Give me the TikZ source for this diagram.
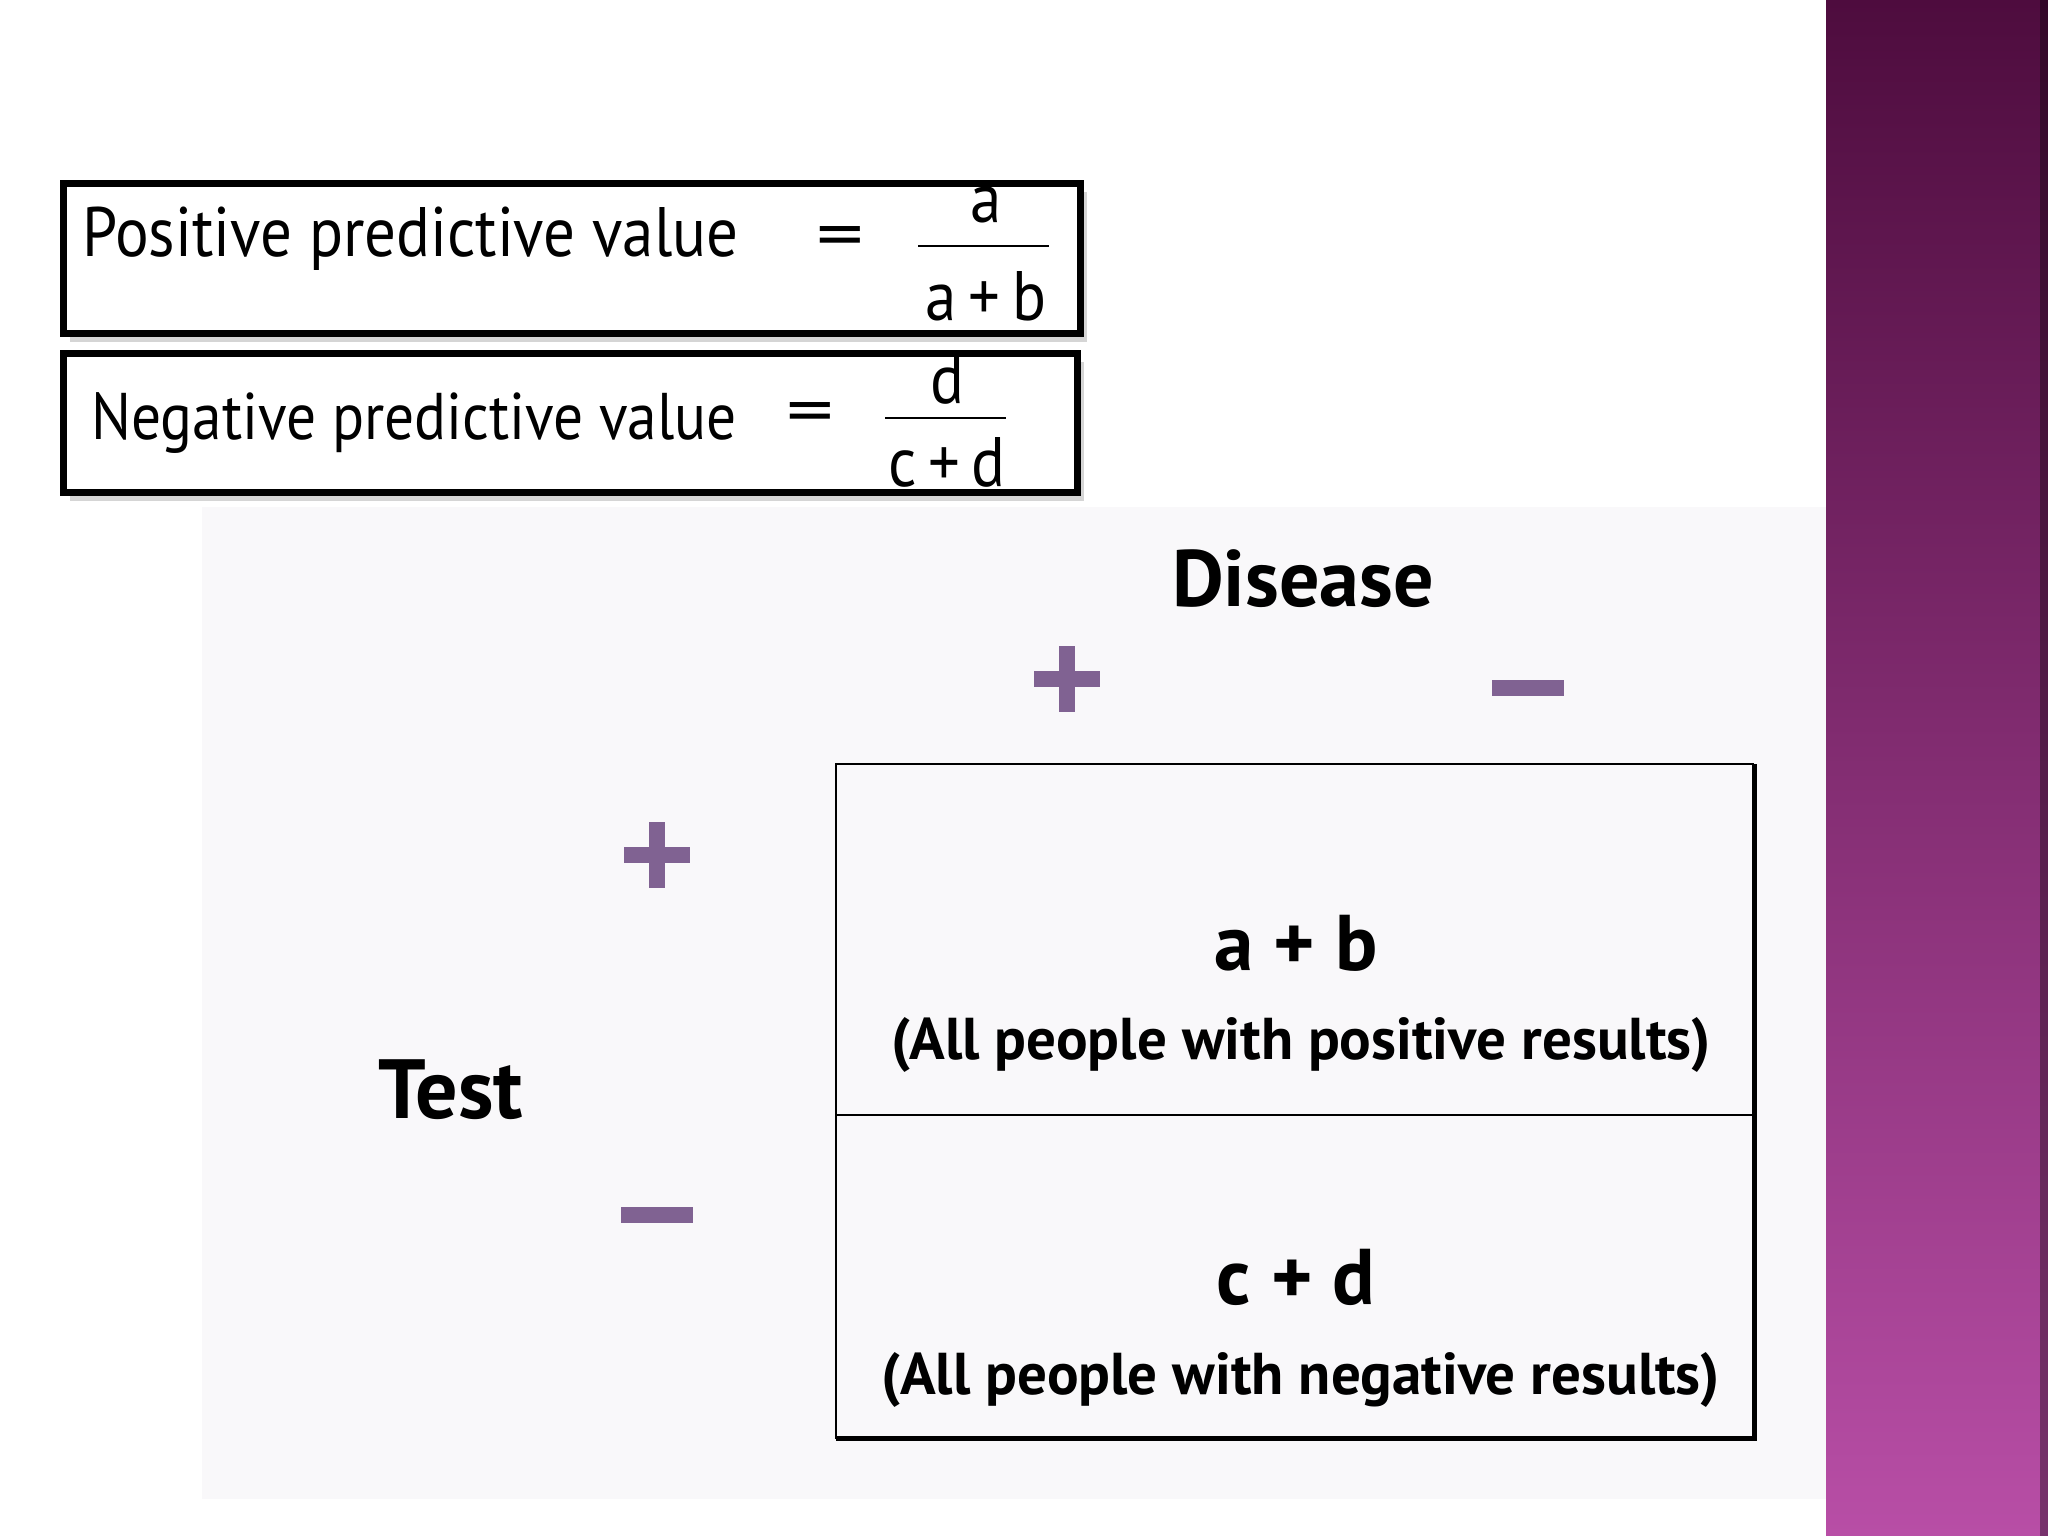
\documentclass[tikz,border=0pt]{standalone}
\usepackage{fontspec}
\setmainfont[FakeStretch=0.9,BoldFeatures={FakeStretch=1.0}]{PT Sans}
\usetikzlibrary{positioning,shadows}

\definecolor{signcol}{RGB}{128,98,146}
\definecolor{areacol}{RGB}{249,248,250}
\definecolor{bartop}{RGB}{78,12,62}
\definecolor{barbot}{RGB}{184,78,166}

\tikzset{
  formbox/.style={draw=black,line width=7pt,fill=white,inner sep=0pt,
    anchor=north west,drop shadow={shadow xshift=6pt,shadow yshift=-8pt,fill=gray!65}},
  formtext/.style={inner sep=0pt,font=\fontsize{70}{80}\selectfont},
  headtext/.style={inner sep=0pt,font=\bfseries\fontsize{80}{90}\selectfont},
  sumtext/.style={inner sep=0pt,font=\bfseries\fontsize{79}{89}\selectfont},
  notetext/.style={inner sep=0pt,font=\bfseries\fontsize{59}{69}\selectfont},
  cell/.style={inner sep=0pt,minimum width=918pt,anchor=north west},
}
% plus und minus als Balken
\newcommand\pmplus[2]{\fill[signcol] (#1-33,#2-8) rectangle (#1+33,#2+8);
  \fill[signcol] (#1-8,#2-33) rectangle (#1+8,#2+33);}
\newcommand\pmminus[2]{\fill[signcol] (#1-36,#2-8) rectangle (#1+36,#2+8);}

\begin{document}
\begin{tikzpicture}[x=1pt,y=-1pt]
  \fill[white] (0,0) rectangle (2048,1536);
  \useasboundingbox (0,0) rectangle (2048,1536);
  % seitenleiste
  \shade[top color=bartop,bottom color=barbot] (1826,0) rectangle (2048,1536);
  \fill[black,opacity=0.35] (2040,0) rectangle (2048,1536);
  \fill[areacol] (202,507) rectangle (1826,1499);

  % formeln
  \node[formbox,minimum width=1017pt,minimum height=150pt] (ppvbox) at (60,180) {};
  \node[formbox,minimum width=1014pt,minimum height=139pt] (npvbox) at (60,350) {};
  \node[formtext,anchor=base west] (ppvlab) at (82,256) {Positive predictive value};
  \node[formtext] (ppveq) at (840,243) {\scalebox{1.5}[1]{=}};
  \node[formtext] (ppvnum) at (986,205) {a};
  \node[formtext] (ppvden) at (986,296) {a\,+\,b};
  \draw[line width=2pt] (918,246) -- (1049,246);
  \node[formtext,font=\fontsize{66}{76}\selectfont,anchor=base west] (npvlab) at (91,439) {Negative predictive value};
  \node[formtext] (npveq) at (810,419) {\scalebox{1.5}[1]{=}};
  \node[formtext] (npvnum) at (947,379) {d};
  \node[formtext] (npvden) at (947,462) {c\,+\,d};
  \draw[line width=2pt] (885,418) -- (1006,418);

  % vierfeldertafel
  \node[headtext] (disease) at (1303,579) {Disease};
  \node[headtext,font=\bfseries\fontsize{84}{94}\selectfont] (test) at (451,1090) {Test};
  \pmplus{1067}{679}
  \pmminus{1528}{688}
  \pmplus{657}{855}
  \pmminus{657}{1215}
  \node[cell,minimum height=351pt] (poscell) at (836,764) {};
  \node[cell,minimum height=323pt,below=0pt of poscell] (negcell) {};
  \draw[line width=2pt] (negcell.south west) -- (poscell.north west) -- (poscell.north east);
  \draw[line width=2pt] (poscell.south west) -- (poscell.south east);
  \draw[line width=5pt] (poscell.north east) -- (negcell.south east) -- (negcell.south west);
  \node[sumtext] (abtxt) at (1296,943) {a + b};
  \node[notetext] (postxt) at (1301,1045) {(All people with positive results)};
  \node[sumtext] (cdtxt) at (1296,1277) {c + d};
  \node[notetext] (negtxt) at (1301,1380) {(All people with negative results)};
\end{tikzpicture}
\end{document}
